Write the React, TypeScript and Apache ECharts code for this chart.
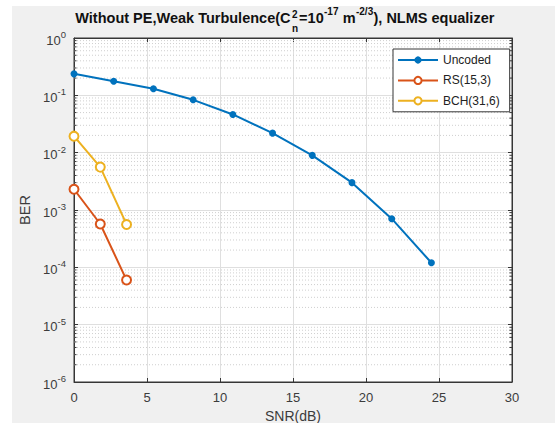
import React, { useEffect, useRef } from 'react';
import * as echarts from 'echarts';

const snrUncoded = [0, 2.72, 5.44, 8.16, 10.88, 13.6, 16.32, 19.04, 21.76, 24.48];
const berUncoded = [0.237, 0.176, 0.13, 0.0835, 0.0464, 0.0219, 0.00897, 0.003, 0.000706, 0.00012];
const snrCoded = [0, 1.8, 3.6];
const berRS = [0.0023, 0.00057, 0.00006];
const berBCH = [0.0194, 0.0056, 0.00056];
const seriesNames = ['Uncoded', 'RS(15,3)', 'BCH(31,6)'];
const xTicks = [0, 5, 10, 15, 20, 25, 30];
const yDecades = [-6, -5, -4, -3, -2, -1, 0];

const FONT = '"Liberation Sans", Arial, Helvetica, sans-serif';
const AXIS = '#363636';
const TEXT = '#3c3c3c';

const minorValues: number[] = [];
for (let e = yDecades[0]; e < yDecades[yDecades.length - 1]; e++) {
  for (let k = 2; k <= 9; k++) minorValues.push(k * Math.pow(10, e));
}

function measure(text: string, size: number, weight = 'bold'): number {
  const c = document.createElement('canvas').getContext('2d')!;
  c.font = `${weight} ${size}px ${FONT}`;
  return c.measureText(text).width;
}

function buildTitle(): any[] {
  const big = 14.5;
  const small = 10;
  const baseY = 18.2;
  const supY = 11.8;
  const els: any[] = [];
  const mk = (text: string, x: number, y: number, size: number, align = 'left') => ({
    type: 'text',
    x,
    y,
    silent: true,
    style: {
      text,
      fontFamily: FONT,
      fontWeight: 'bold',
      fontSize: size,
      fill: '#111',
      align,
      verticalAlign: 'middle',
    },
  });
  const anchor = 290.5;
  els.push(mk('Without PE,Weak Turbulence(C', anchor, baseY, big, 'right'));
  els.push(mk('2', anchor + 1.5, 14.5, small));
  els.push(mk('n', anchor + 1.5, 28, small));
  let x = anchor + 1.5 + Math.max(measure('2', small), measure('n', small)) + 1;
  const pieces: [string, boolean][] = [
    ['=10', false],
    ['-17', true],
    [' m', false],
    ['-2/3', true],
    ['), NLMS equalizer', false],
  ];
  for (const [t, sup] of pieces) {
    const size = sup ? small : big;
    els.push(mk(t, x + (sup ? 0.3 : 0), sup ? supY : baseY, size));
    x += measure(t, size) + (sup ? 0.6 : 0);
  }
  return els;
}

export default function App() {
  const ref = useRef<HTMLDivElement>(null);
  useEffect(() => {
    if (!ref.current) return;
    const chart = echarts.init(ref.current, undefined, { renderer: 'svg' });
    const lineData = (xs: number[], ys: number[]) => xs.map((x, i) => [x, ys[i]]);
    const yLabelRich = {
      b: { fontSize: 13, fontFamily: FONT, color: TEXT, verticalAlign: 'bottom' },
      e: { fontSize: 9.5, fontFamily: FONT, color: TEXT, verticalAlign: 'top', padding: [0, 0, 7, 0] },
    };
    const yFormatter = (v: number) => `{b|10}{e|${Math.round(Math.log10(v))}}`;
    const option: any = {
      animation: false,
      backgroundColor: '#f0f0f0',
      graphic: [
        { type: 'rect', shape: { x: 0, y: 0, width: 12, height: 423 }, style: { fill: '#ffffff' }, silent: true },
        { type: 'rect', shape: { x: 0, y: 0, width: 555, height: 6 }, style: { fill: '#ffffff' }, silent: true },
        ...buildTitle(),
      ],
      grid: {
        left: 74,
        right: 43,
        top: 38,
        bottom: 41,
        show: true,
        containLabel: false,
        outerBoundsMode: 'none',
        backgroundColor: '#ffffff',
        borderColor: AXIS,
        borderWidth: 1,
      },
      legend: {
        data: seriesNames,
        orient: 'vertical',
        left: 393,
        top: 49,
        padding: [5, 10, 5, 4],
        itemWidth: 40,
        itemHeight: 9,
        itemGap: 8.4,
        backgroundColor: '#ffffff',
        borderColor: AXIS,
        borderWidth: 1,
        borderRadius: 0,
        textStyle: { fontSize: 12, fontFamily: FONT, color: '#222' },
      },
      xAxis: [
        {
          type: 'value',
          min: xTicks[0],
          max: xTicks[xTicks.length - 1],
          interval: 5,
          name: 'SNR(dB)',
          nameLocation: 'middle',
          nameGap: 25,
          nameTextStyle: { fontSize: 14, fontFamily: FONT, color: TEXT },
          axisLine: { onZero: false, lineStyle: { color: AXIS } },
          axisTick: { inside: true, length: 4, lineStyle: { color: AXIS } },
          axisLabel: { fontSize: 13, fontFamily: FONT, color: TEXT, margin: 9 },
          splitLine: { show: true, lineStyle: { color: '#dfdfdf', width: 1 } },
        },
        {
          type: 'value',
          position: 'top',
          min: xTicks[0],
          max: xTicks[xTicks.length - 1],
          interval: 5,
          axisLine: { onZero: false, lineStyle: { color: AXIS } },
          axisTick: { inside: true, length: 4, lineStyle: { color: AXIS } },
          axisLabel: { show: false },
          splitLine: { show: false },
        },
      ],
      yAxis: [
        {
          type: 'log',
          logBase: 10,
          min: Math.pow(10, yDecades[0]),
          max: Math.pow(10, yDecades[yDecades.length - 1]),
          name: 'BER',
          nameLocation: 'middle',
          nameGap: 36,
          nameTextStyle: { fontSize: 14.5, fontFamily: FONT, color: TEXT },
          axisLine: { onZero: false, lineStyle: { color: AXIS } },
          axisTick: { inside: true, length: 4, lineStyle: { color: AXIS } },
          axisLabel: { formatter: yFormatter, rich: yLabelRich, margin: 8 },
          splitLine: { show: true, lineStyle: { color: '#dfdfdf', width: 1 } },
          minorTick: { show: false },
        },
        {
          type: 'log',
          logBase: 10,
          position: 'right',
          min: Math.pow(10, yDecades[0]),
          max: Math.pow(10, yDecades[yDecades.length - 1]),
          axisLine: { onZero: false, lineStyle: { color: AXIS } },
          axisTick: { inside: true, length: 4, lineStyle: { color: AXIS } },
          axisLabel: { show: false },
          splitLine: { show: false },
        },
      ],
      series: [
        {
          type: 'custom',
          name: 'minor',
          silent: true,
          z: 1,
          xAxisIndex: 0,
          yAxisIndex: 0,
          data: minorValues.map((v) => [0, v]),
          renderItem: (params: any, api: any) => {
            const y = api.coord([0, api.value(1)])[1];
            const cs = params.coordSys;
            return {
              type: 'group',
              children: [
                {
                  type: 'line',
                  shape: { x1: cs.x, y1: y, x2: cs.x + cs.width, y2: y },
                  style: { stroke: '#cfcfcf', lineWidth: 1, lineDash: [1, 2] },
                },
                {
                  type: 'line',
                  shape: { x1: cs.x, y1: y, x2: cs.x + 2.5, y2: y },
                  style: { stroke: AXIS, lineWidth: 1 },
                },
                {
                  type: 'line',
                  shape: { x1: cs.x + cs.width - 2.5, y1: y, x2: cs.x + cs.width, y2: y },
                  style: { stroke: AXIS, lineWidth: 1 },
                },
              ],
            };
          },
        },
        {
          type: 'line',
          name: seriesNames[0],
          data: lineData(snrUncoded, berUncoded),
          symbol: 'circle',
          symbolSize: 7,
          color: '#0072BD',
          lineStyle: { width: 2, color: '#0072BD' },
          itemStyle: { color: '#0072BD' },
          z: 3,
        },
        {
          type: 'line',
          name: seriesNames[1],
          data: lineData(snrCoded, berRS),
          symbol: 'emptyCircle',
          symbolSize: 9,
          color: '#D95319',
          lineStyle: { width: 2, color: '#D95319' },
          itemStyle: { color: '#D95319', borderWidth: 1.6 },
          z: 3,
        },
        {
          type: 'line',
          name: seriesNames[2],
          data: lineData(snrCoded, berBCH),
          symbol: 'emptyCircle',
          symbolSize: 9,
          color: '#EDB120',
          lineStyle: { width: 2, color: '#EDB120' },
          itemStyle: { color: '#EDB120', borderWidth: 1.6 },
          z: 3,
        },
      ],
    };
    chart.setOption(option);
    return () => chart.dispose();
  }, []);
  return (
    <div style={{ position: 'absolute', left: 0, top: 0, width: 555, height: 423 }}>
      <div ref={ref} style={{ width: 555, height: 423 }} />
    </div>
  );
}
